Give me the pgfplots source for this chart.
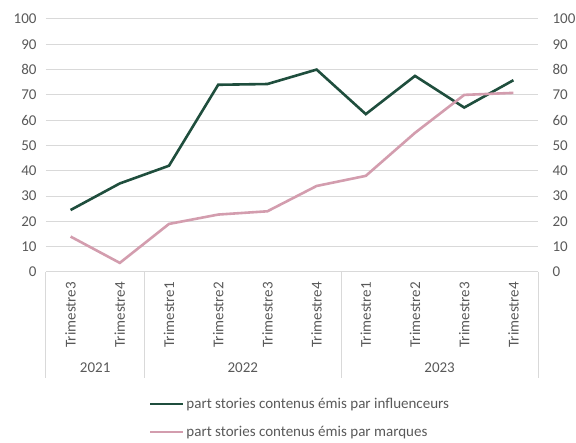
\documentclass[border=0pt]{standalone}
\usepackage{pgfplots}
\pgfplotsset{compat=1.18}
\usepackage{fontspec}
\setmainfont{Carlito}
\definecolor{txt}{HTML}{595959}
\definecolor{gridc}{HTML}{D9D9D9}
\definecolor{dgreen}{HTML}{1F4E3D}
\definecolor{pinkc}{HTML}{D39DAE}
\begin{document}
\begin{tikzpicture}[x=1pt,y=1pt]
\useasboundingbox (-46,-171) rectangle (530,272);
\begin{axis}[
  scale only axis, width=492pt, height=253pt,
  at={(0,0)}, anchor=south west,
  xmin=-0.5, xmax=9.5, ymin=0, ymax=100,
  xtick={0,...,9},
  xticklabels={Trimestre3,Trimestre4,Trimestre1,Trimestre2,Trimestre3,Trimestre4,Trimestre1,Trimestre2,Trimestre3,Trimestre4},
  x tick label style={rotate=90, anchor=east, font=\fontsize{15}{17}\selectfont, text=txt, inner sep=0pt},
  xticklabel shift=10pt,
  ytick={0,10,...,100},
  y tick label style={font=\fontsize{15}{17}\selectfont, text=txt, xshift=-6pt},
  yticklabel style={/pgf/number format/assume math mode=true},
  major tick length=0pt,
  ymajorgrids, xmajorgrids=false, grid style={draw=gridc, line width=1pt},
  axis line style={draw=none},
  clip=false,
  legend style={at={(0.5+8/492,-124/253)}, anchor=north, draw=none, fill=none,
    font=\fontsize{15}{17}\selectfont, text=txt, row sep=12pt, inner sep=0pt},
  legend cell align=left,
  legend image code/.code={\draw[#1, line width=2.5pt] (0pt,0pt) -- (33pt,0pt);},
]
\draw[gridc, line width=1pt] (axis cs:-0.5,0) -- (axis cs:9.5,0);
\draw[gridc, line width=1pt] (axis cs:-0.5,0) -- ([yshift=-106pt]axis cs:-0.5,0);
\draw[gridc, line width=1pt] (axis cs:1.5,0) -- ([yshift=-106pt]axis cs:1.5,0);
\draw[gridc, line width=1pt] (axis cs:5.5,0) -- ([yshift=-106pt]axis cs:5.5,0);
\draw[gridc, line width=1pt] (axis cs:9.5,0) -- ([yshift=-106pt]axis cs:9.5,0);
\node[text=txt, font=\fontsize{15}{17}\selectfont] at ([yshift=-96pt]axis cs:0.5,0) {2021};
\node[text=txt, font=\fontsize{15}{17}\selectfont] at ([yshift=-96pt]axis cs:3.5,0) {2022};
\node[text=txt, font=\fontsize{15}{17}\selectfont] at ([yshift=-96pt]axis cs:7.5,0) {2023};
\addplot[dgreen, line width=2.6pt, no markers] coordinates {
 (0,24.5) (1,35) (2,42) (3,74) (4,74.3) (5,80) (6,62.4) (7,77.5) (8,65) (9,75.8)};
\addlegendentry{part stories contenus émis par influenceurs}
\addplot[pinkc, line width=2.6pt, no markers] coordinates {
 (0,14) (1,3.6) (2,19) (3,22.7) (4,24) (5,34) (6,38) (7,55) (8,70) (9,70.8)};
\addlegendentry{part stories contenus émis par marques}
\end{axis}
\begin{axis}[
  scale only axis, width=492pt, height=253pt,
  at={(0,0)}, anchor=south west,
  xmin=-0.5, xmax=9.5, ymin=0, ymax=100,
  hide x axis, axis y line*=right, axis line style={draw=none},
  ytick={0,10,...,100}, major tick length=0pt,
  y tick label style={font=\fontsize{15}{17}\selectfont, text=txt, xshift=11pt},
  yticklabel style={/pgf/number format/assume math mode=true},
]
\addplot[draw=none] coordinates {(0,0)};
\end{axis}
\end{tikzpicture}
\end{document}
